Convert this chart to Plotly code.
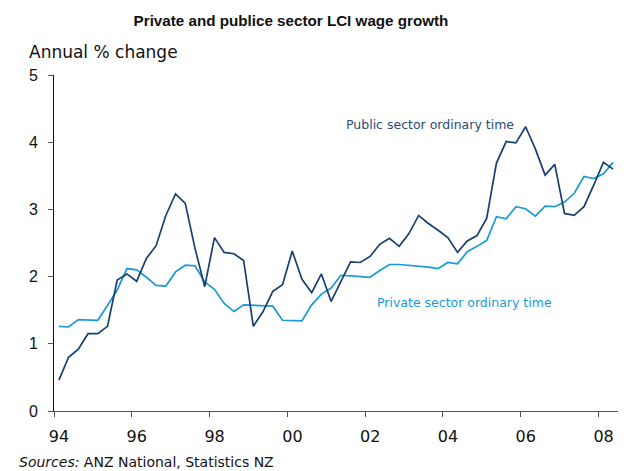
import plotly.graph_objects as go

# Quarterly observations, 1994 Q1 .. 2008 Q2
start_year = 1994.125
n_q = 58
dates = [start_year + 0.25 * i for i in range(n_q)]

public = [0.46, 0.80, 0.92, 1.15, 1.15, 1.26, 1.95, 2.04, 1.93, 2.27,
          2.46, 2.91, 3.23, 3.09, 2.42, 1.85, 2.58, 2.36, 2.34, 2.24,
          1.26, 1.48, 1.78, 1.88, 2.38, 1.96, 1.76, 2.04, 1.63, 1.92,
          2.22, 2.21, 2.30, 2.48, 2.57, 2.45, 2.64, 2.91, 2.79, 2.69,
          2.58, 2.36, 2.53, 2.61, 2.87, 3.69, 4.01, 3.99, 4.23, 3.90,
          3.51, 3.67, 2.94, 2.91, 3.04, 3.36, 3.70, 3.60]

private = [1.26, 1.25, 1.36, 1.36, 1.35, 1.57, 1.80, 2.12, 2.10, 1.99,
           1.87, 1.86, 2.07, 2.17, 2.16, 1.92, 1.81, 1.60, 1.48, 1.58,
           1.57, 1.57, 1.56, 1.35, 1.34, 1.34, 1.58, 1.74, 1.83, 2.02,
           2.01, 2.00, 1.99, 2.09, 2.18, 2.18, 2.17, 2.15, 2.14, 2.12,
           2.21, 2.19, 2.37, 2.45, 2.54, 2.89, 2.86, 3.04, 3.01, 2.90,
           3.05, 3.04, 3.11, 3.24, 3.49, 3.46, 3.53, 3.70]

x_tick_vals = [1994, 1996, 1998, 2000, 2002, 2004, 2006, 2008]
x_tick_text = ["94", "96", "98", "00", "02", "04", "06", "08"]
y_tick_vals = [0, 1, 2, 3, 4, 5]

PUBLIC_COL = "#173f6f"
PRIVATE_COL = "#1b9ad6"

fig = go.Figure()
fig.add_trace(go.Scatter(x=dates, y=private, mode="lines",
                         line=dict(color=PRIVATE_COL, width=1.7),
                         name="Private sector ordinary time"))
fig.add_trace(go.Scatter(x=dates, y=public, mode="lines",
                         line=dict(color=PUBLIC_COL, width=1.7),
                         name="Public sector ordinary time"))

fig.update_layout(
    width=626, height=471,
    margin=dict(l=54, r=8, t=75, b=60),
    paper_bgcolor="white", plot_bgcolor="white",
    showlegend=False,
    title=dict(text="<b>Private and publice sector LCI wage growth</b>",
               x=291 / 626, xanchor="center", y=1 - 20.5 / 471, yanchor="middle",
               font=dict(family="Liberation Sans", size=15.2, color="#111111")),
    xaxis=dict(range=[1994, 2008.5], tickvals=x_tick_vals, ticktext=x_tick_text,
               showgrid=False, zeroline=False, showline=True,
               linecolor="#555555", linewidth=1,
               ticks="outside", ticklen=5, tickcolor="#555555",
               ticklabelshift=5, ticklabelstandoff=6,
               tickfont=dict(family="DejaVu Sans", size=16, color="#111111")),
    yaxis=dict(range=[0, 5], tickvals=y_tick_vals,
               showgrid=False, zeroline=False, showline=True,
               linecolor="#111111", linewidth=1,
               ticks="outside", ticklen=5, tickcolor="#555555",
               ticklabelstandoff=7,
               tickfont=dict(family="Liberation Sans", size=16, color="#111111")),
)

fig.add_annotation(text="Annual % change", xref="paper", yref="paper",
                   x=(27 - 54) / 564, y=(471 - 60 - 52) / 336,
                   xanchor="left", yanchor="middle", showarrow=False,
                   font=dict(family="DejaVu Sans", size=17, color="#111111"))
fig.add_annotation(text="Public sector ordinary time", xref="x", yref="y",
                   x=2001.45, y=4.27, xanchor="left", yanchor="middle",
                   showarrow=False,
                   font=dict(family="DejaVu Sans", size=12.5, color="#2a4a78"))
fig.add_annotation(text="Private sector ordinary time", xref="x", yref="y",
                   x=2002.25, y=1.62, xanchor="left", yanchor="middle",
                   showarrow=False,
                   font=dict(family="DejaVu Sans", size=12.5, color=PRIVATE_COL))
fig.add_annotation(text="<i>Sources:</i> ANZ National, Statistics NZ",
                   xref="paper", yref="paper",
                   x=(17 - 54) / 564, y=-(461.7 - 411) / 336,
                   xanchor="left", yanchor="middle", showarrow=False,
                   font=dict(family="DejaVu Sans", size=14, color="#111111"))

fig.write_html("out.html")
